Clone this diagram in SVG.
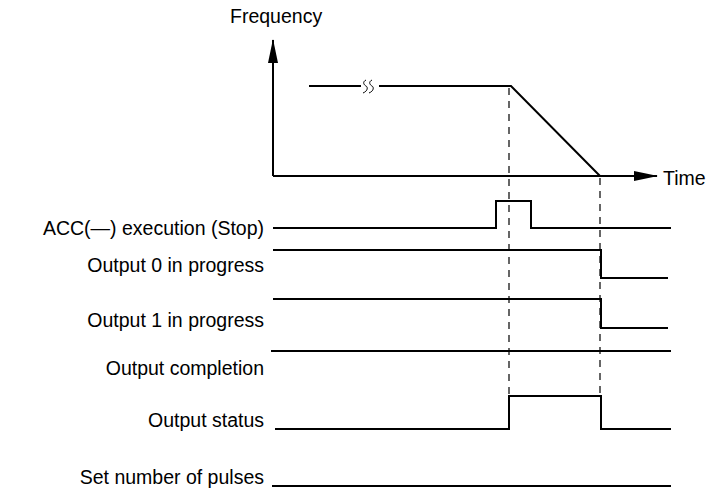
<svg xmlns="http://www.w3.org/2000/svg" width="721" height="493" viewBox="0 0 721 493">
<style>
text{font-family:"Liberation Sans",Arial,sans-serif;font-size:19.5px;fill:#000}
.l{text-anchor:end}
.s{fill:none;stroke:#000;stroke-width:2}
.d{fill:none;stroke:#000;stroke-width:1.2;stroke-dasharray:7,6}
</style>
<defs>
<marker id="b" markerWidth="24" markerHeight="10" refX="23" refY="5" orient="auto" markerUnits="userSpaceOnUse"><path d="M0,0L24,5L0,10z" fill="#000"/></marker></defs>
<rect width="721" height="493" fill="#fff"/>
<g id="labels">
<text x="230" y="23">Frequency</text>
<text x="663" y="185">Time</text>
<text class="l" x="264" y="235">ACC(—) execution (Stop)</text>
<text class="l" x="264" y="272">Output 0 in progress</text>
<text class="l" x="264" y="327">Output 1 in progress</text>
<text class="l" x="264" y="375">Output completion</text>
<text class="l" x="264" y="427">Output status</text>
<text class="l" x="264" y="484">Set number of pulses</text>
</g>
<g id="connectors">
<path class="s" d="M273,176V40" marker-end="url(#b)"/>
<path class="s" d="M273,176H657" marker-end="url(#b)"/>
<path class="s" d="M309,86H361M379,86H511L600,176"/>
<path fill="none" stroke="#000" stroke-width="1" d="M366,80c-4,2 -2,5 0,6s2,5 -3,7M372,80c-4,2 -2,5 0,6s2,5 -3,7"/>
<path class="d" d="M509,88V396M600,178V396"/>
<path class="s" d="M273,228H496V201H531V228H671"/>
<path class="s" d="M273,250H601V278H668"/>
<path class="s" d="M273,299H601V328H668"/>
<path class="s" d="M271,351H671"/>
<path class="s" d="M275,429H509V396H601V429H671"/>
<path class="s" d="M272,486H671"/>
</g>
</svg>
